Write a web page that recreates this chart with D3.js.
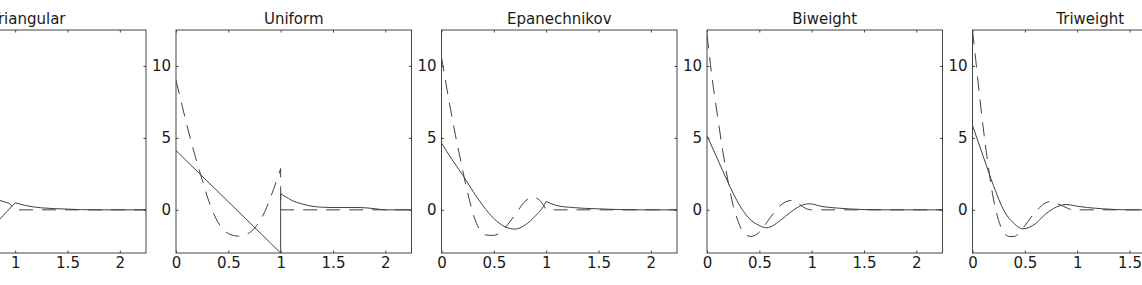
<!DOCTYPE html>
<html>
<head>
<meta charset="utf-8">
<script src="https://cdn.jsdelivr.net/npm/d3@7"></script>
<style>
  body { margin: 0; background: #fff; }
  svg { display: block; }
  text { font-family: "DejaVu Sans", sans-serif; fill: #1a1a1a; }
</style>
</head>
<body>
<script>
const W = 1142, H = 285;

// kernel names, left to right
const titles = ["Triangular", "Uniform", "Epanechnikov", "Biweight", "Triweight"];
const xTicks = [0, 0.5, 1, 1.5, 2];
const yTicks = [0, 5, 10];

// each series is a list of segments, joined end to start (jumps become vertical lines)
const triangularSolid = [
  [[0, 4.5], [0.1, 3.3], [0.2, 2.2], [0.3, 1.1], [0.4, 0.1], [0.5, -0.7], [0.6, -1.2], [0.7, -1.35], [0.8, -1.05], [0.855, -0.63], [1, 0.49]],
  [[1, 0.49], [1.1, 0.3], [1.25, 0.14], [1.5, 0.05], [1.75, 0], [2.25, 0]]
];
const triangularDashed = [
  [[0, 9.8], [0.05, 8.2], [0.1, 6.6], [0.15, 5.0], [0.2, 3.4], [0.25, 2.0], [0.3, 0.7], [0.35, -0.4], [0.4, -1.2], [0.45, -1.65], [0.5, -1.8], [0.55, -1.65], [0.6, -1.3], [0.7, -0.4], [0.78, 0.35], [0.84, 0.66], [0.9, 0.55], [0.95, 0.4], [1, 0]],
  [[1, 0], [2.25, 0]]
];

const uniformSolid = [
  [[0, 4.12], [1, -3.0]],
  [[1, 1.12], [1.05, 0.9], [1.1, 0.68], [1.2, 0.42], [1.3, 0.25], [1.4, 0.18], [1.5, 0.16], [1.75, 0.16], [1.9, 0.08], [2, 0], [2.25, 0]]
];
const uniformDashed = [
  [[0, 9.0], [0.05, 7.5], [0.1, 6.0], [0.15, 4.6], [0.2, 3.3], [0.25, 2.1], [0.3, 0.9], [0.35, -0.1], [0.4, -0.85], [0.45, -1.35], [0.5, -1.65], [0.6, -1.83], [0.7, -1.6], [0.77, -1.1], [0.85, -0.1], [0.9, 0.8], [0.95, 1.8], [1, 2.87]],
  [[1, 0], [2.25, 0]]
];

const epanSolid = [
  [[0, 4.65], [0.1, 3.5], [0.2, 2.45], [0.3, 1.3], [0.4, 0.25], [0.5, -0.6], [0.6, -1.15], [0.7, -1.34], [0.8, -1.05], [0.9, -0.4], [0.97, 0.2], [1, 0.58]],
  [[1, 0.58], [1.1, 0.3], [1.25, 0.16], [1.5, 0.07], [1.75, 0.01], [1.9, 0], [2.25, 0]]
];
const epanDashed = [
  [[0, 10.6], [0.04, 8.9], [0.086, 7.0], [0.134, 5.16], [0.18, 3.54], [0.22, 2.15], [0.264, 0.76], [0.312, -0.5], [0.36, -1.32], [0.42, -1.74], [0.49, -1.78], [0.57, -1.55], [0.63, -1.04], [0.71, -0.28], [0.79, 0.53], [0.87, 0.88], [0.93, 0.72], [1, 0]],
  [[1, 0], [2.25, 0]]
];

const biSolid = [
  [[0, 5.16], [0.1, 3.54], [0.2, 1.92], [0.3, 0.46], [0.4, -0.58], [0.5, -1.09], [0.57, -1.25], [0.6, -1.2], [0.7, -0.74], [0.8, -0.16], [0.9, 0.3], [0.98, 0.42], [1.1, 0.23], [1.25, 0.12], [1.5, 0.02], [1.7, 0], [2.25, 0]]
];
const biDashed = [
  [[0, 12.2], [0.05, 9.1], [0.1, 6.55], [0.15, 4.12], [0.2, 2.04], [0.25, 0.3], [0.3, -0.86], [0.35, -1.6], [0.42, -1.85], [0.5, -1.55], [0.6, -0.58], [0.7, 0.3], [0.8, 0.65], [0.9, 0.3], [0.95, 0.07], [1, 0]],
  [[1, 0], [2.25, 0]]
];

const triSolid = [
  [[0, 5.86], [0.1, 3.77], [0.2, 1.69], [0.3, -0.05], [0.4, -0.97], [0.48, -1.32], [0.6, -0.97], [0.7, -0.28], [0.8, 0.19], [0.9, 0.37], [1, 0.25], [1.1, 0.16], [1.25, 0.07], [1.5, 0], [2.25, 0]]
];
const triDashed = [
  [[0, 12.45], [0.03, 10.5], [0.05, 9.1], [0.1, 5.86], [0.15, 3.08], [0.2, 0.76], [0.25, -0.74], [0.3, -1.6], [0.35, -1.85], [0.4, -1.85], [0.45, -1.55], [0.5, -1.1], [0.6, -0.16], [0.7, 0.49], [0.75, 0.58], [0.85, 0.3], [0.95, 0.02], [1, 0]],
  [[1, 0], [2.25, 0]]
];

const solids = [triangularSolid, uniformSolid, epanSolid, biSolid, triSolid];
const dasheds = [triangularDashed, uniformDashed, epanDashed, biDashed, triDashed];

const firstLeft = -89.5, step = 265.5;
const pw = 235.5, plotTop = 30, ph = 223;
const ink = "#404040", boxInk = "#444";

const svg = d3.select("body").append("svg").attr("width", W).attr("height", H);

const x = d3.scaleLinear().domain([0, 2.25]).range([0, pw]);
const y = d3.scaleLinear().domain([-3, 12.5]).range([ph, 0]);

const line = d3.line()
  .x(d => x(d[0]))
  .y(d => y(d[1]))
  .curve(d3.curveMonotoneX);

// glue the segments into one path so the dash pattern runs on
function seriesPath(segs) {
  return segs.map((s, i) => {
    const d = line(s);
    return i === 0 ? d : "L" + d.slice(1);
  }).join("");
}

titles.forEach((t, i) => {
  const g = svg.append("g").attr("transform", `translate(${firstLeft + i * step},${plotTop})`);

  g.append("clipPath").attr("id", "clip" + i)
    .append("rect").attr("width", pw).attr("height", ph);

  const plot = g.append("g").attr("clip-path", `url(#clip${i})`);
  plot.append("path")
    .attr("d", seriesPath(dasheds[i]))
    .attr("fill", "none")
    .attr("stroke", ink)
    .attr("stroke-width", 1)
    .attr("stroke-dasharray", "14,9");
  plot.append("path")
    .attr("d", seriesPath(solids[i]))
    .attr("fill", "none")
    .attr("stroke", ink)
    .attr("stroke-width", 1);

  const tk = 2.5;
  const axB = g.append("g").attr("transform", `translate(0,${ph})`)
    .call(d3.axisBottom(x).tickValues(xTicks).tickSizeInner(-tk).tickSizeOuter(0).tickPadding(4).tickFormat(d3.format("")));
  const axT = g.append("g")
    .call(d3.axisTop(x).tickValues(xTicks).tickSizeInner(-tk).tickSizeOuter(0).tickFormat(""));
  const axL = g.append("g")
    .call(d3.axisLeft(y).tickValues(yTicks).tickSizeInner(-tk).tickSizeOuter(0).tickPadding(5));
  const axR = g.append("g").attr("transform", `translate(${pw},0)`)
    .call(d3.axisRight(y).tickValues(yTicks).tickSizeInner(-tk).tickSizeOuter(0).tickFormat(""));

  [axB, axT, axL, axR].forEach(a => {
    a.select(".domain").remove();
    a.selectAll("line").attr("stroke", boxInk);
    a.selectAll("text").attr("font-size", 15).attr("font-family", "DejaVu Sans").attr("fill", "#1a1a1a");
  });

  g.append("rect")
    .attr("width", pw).attr("height", ph)
    .attr("fill", "none").attr("stroke", boxInk).attr("stroke-width", 1);

  g.append("text")
    .attr("x", pw / 2).attr("y", -6)
    .attr("text-anchor", "middle")
    .attr("font-size", 15)
    .text(t);
});
</script>
</body>
</html>
